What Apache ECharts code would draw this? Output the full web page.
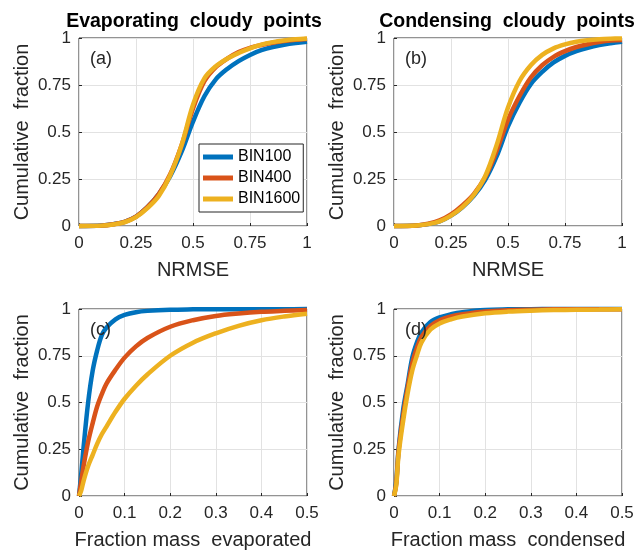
<!DOCTYPE html>
<html>
<head>
<meta charset="utf-8">
<script src="https://cdn.jsdelivr.net/npm/echarts@6/dist/echarts.min.js"></script>
<style>
  html, body { margin: 0; padding: 0; background: #fff; }
  #chart { width: 637px; height: 552px; }
</style>
</head>
<body>
<div id="chart"></div>
<script>
// series names
let names = ['BIN100', 'BIN400', 'BIN1600'];
let colors = ['#0072BD', '#D95319', '#EDB120'];

// NRMSE grid, panels (a) and (b)
let xNrmse = [0, 0.1, 0.15, 0.2, 0.25, 0.3, 0.35, 0.4, 0.45, 0.5, 0.55, 0.6, 0.65, 0.7, 0.75, 0.8, 0.85, 0.9, 0.95, 1];

// (a) evaporating, NRMSE
let evapBlue   = [0, 0.003, 0.01, 0.022, 0.05, 0.1, 0.17, 0.265, 0.395, 0.555, 0.69, 0.78, 0.835, 0.877, 0.91, 0.935, 0.952, 0.964, 0.973, 0.98];
let evapRed    = [0, 0.002, 0.009, 0.022, 0.05, 0.1, 0.17, 0.275, 0.43, 0.625, 0.77, 0.845, 0.89, 0.925, 0.948, 0.963, 0.975, 0.984, 0.99, 0.995];
let evapYellow = [0, 0.002, 0.008, 0.02, 0.047, 0.095, 0.16, 0.27, 0.43, 0.645, 0.785, 0.85, 0.89, 0.92, 0.945, 0.965, 0.978, 0.987, 0.993, 0.997];

// (b) condensing, NRMSE
let condBlue   = [0, 0.003, 0.01, 0.025, 0.055, 0.1, 0.16, 0.245, 0.37, 0.53, 0.655, 0.755, 0.82, 0.87, 0.905, 0.93, 0.948, 0.962, 0.972, 0.98];
let condRed    = [0, 0.003, 0.012, 0.03, 0.062, 0.11, 0.17, 0.26, 0.4, 0.565, 0.69, 0.79, 0.855, 0.9, 0.93, 0.952, 0.967, 0.978, 0.986, 0.99];
let condYellow = [0, 0.003, 0.01, 0.025, 0.055, 0.1, 0.165, 0.265, 0.43, 0.63, 0.77, 0.855, 0.91, 0.945, 0.966, 0.98, 0.988, 0.993, 0.996, 0.998];

// fraction mass grid, panels (c) and (d)
let xMass = [0, 0.005, 0.01, 0.02, 0.03, 0.04, 0.05, 0.06, 0.08, 0.1, 0.125, 0.15, 0.2, 0.25, 0.3, 0.35, 0.4, 0.45, 0.5];

// (c) fraction mass evaporated
let massEvapBlue   = [0, 0.12, 0.26, 0.5, 0.67, 0.78, 0.86, 0.9, 0.945, 0.968, 0.983, 0.99, 0.996, 0.998, 0.999, 0.999, 0.999, 0.999, 1];
let massEvapRed    = [0, 0.08, 0.16, 0.29, 0.39, 0.48, 0.545, 0.6, 0.675, 0.74, 0.8, 0.845, 0.905, 0.94, 0.963, 0.976, 0.985, 0.99, 0.995];
let massEvapYellow = [0, 0.03, 0.08, 0.16, 0.22, 0.28, 0.33, 0.37, 0.45, 0.52, 0.59, 0.65, 0.75, 0.82, 0.87, 0.91, 0.94, 0.96, 0.975];

// (d) fraction mass condensed
let massCondBlue   = [0, 0.08, 0.25, 0.46, 0.6, 0.74, 0.82, 0.875, 0.93, 0.955, 0.972, 0.983, 0.995, 0.998, 0.999, 1, 1, 1, 1];
let massCondRed    = [0, 0.07, 0.24, 0.43, 0.58, 0.71, 0.79, 0.85, 0.91, 0.94, 0.96, 0.972, 0.987, 0.993, 0.996, 0.998, 0.999, 0.999, 0.999];
let massCondYellow = [0, 0.06, 0.22, 0.4, 0.55, 0.67, 0.75, 0.82, 0.89, 0.923, 0.945, 0.96, 0.977, 0.986, 0.991, 0.994, 0.996, 0.997, 0.998];

// tick values
let ticksNrmse = [0, 0.25, 0.5, 0.75, 1];
let ticksMass = [0, 0.1, 0.2, 0.3, 0.4, 0.5];
let ticksFrac = [0, 0.25, 0.5, 0.75, 1];

let panels = [
    { x: xNrmse, ys: [evapBlue, evapRed, evapYellow], ticks: ticksNrmse, xname: 'NRMSE', tag: '(a)' },
    { x: xNrmse, ys: [condBlue, condRed, condYellow], ticks: ticksNrmse, xname: 'NRMSE', tag: '(b)' },
    { x: xMass, ys: [massEvapBlue, massEvapRed, massEvapYellow], ticks: ticksMass, xname: 'Fraction mass  evaporated', tag: '(c)' },
    { x: xMass, ys: [massCondBlue, massCondRed, massCondYellow], ticks: ticksMass, xname: 'Fraction mass  condensed', tag: '(d)' },
];

// plot boxes
let boxes = [
    { left: 79, top: 38, width: 228, height: 188 },
    { left: 394, top: 38, width: 228, height: 188 },
    { left: 79, top: 309, width: 228, height: 187 },
    { left: 394, top: 309, width: 228, height: 187 },
];

let txt = '#262626';
let fontFam = 'Liberation Sans, Arial, sans-serif';

let myChart = echarts.init(document.getElementById('chart'), null, { renderer: 'canvas' });

let grid = [], xAxis = [], yAxis = [], series = [], graphic = [];

panels.map(function (p, i) {
    let b = boxes[i];
    grid.push({
        left: b.left, top: b.top, width: b.width, height: b.height,
        show: true, borderColor: txt, borderWidth: 1, backgroundColor: '#fff'
    });
    xAxis.push({
        gridIndex: i,
        type: 'value',
        min: p.ticks[0],
        max: p.ticks[p.ticks.length - 1],
        interval: p.ticks[1] - p.ticks[0],
        name: p.xname,
        nameLocation: 'middle',
        nameGap: 34,
        nameTextStyle: { fontSize: 20, color: txt, fontFamily: fontFam },
        axisLine: { show: false },
        axisTick: { show: true, inside: true, length: 3, lineStyle: { color: txt } },
        axisLabel: { fontSize: 17, color: txt, margin: 9, fontFamily: fontFam },
        splitLine: { show: true, lineStyle: { color: '#e2e2e2', width: 1 } },
    });
    yAxis.push({
        gridIndex: i,
        type: 'value',
        min: ticksFrac[0],
        max: ticksFrac[ticksFrac.length - 1],
        interval: ticksFrac[1] - ticksFrac[0],
        name: 'Cumulative  fraction',
        nameLocation: 'middle',
        nameGap: 47,
        nameTextStyle: { fontSize: 20, color: txt, fontFamily: fontFam },
        axisLine: { show: false },
        axisTick: { show: true, inside: true, length: 3, lineStyle: { color: txt } },
        axisLabel: { fontSize: 17, color: txt, margin: 8, fontFamily: fontFam },
        splitLine: { show: true, lineStyle: { color: '#e2e2e2', width: 1 } },
    });
    p.ys.map(function (ys, k) {
        series.push({
            name: names[k],
            type: 'line',
            xAxisIndex: i,
            yAxisIndex: i,
            data: p.x.map(function (xv, j) { return [xv, ys[j]]; }),
            showSymbol: false,
            smooth: 0.35,
            lineStyle: { color: colors[k], width: 4.5 },
            itemStyle: { color: colors[k] },
            clip: false,
        });
    });
    // panel tag (a) (b) ...
    graphic.push({
        type: 'text',
        left: b.left + 11,
        top: b.top + 12,
        style: { text: p.tag, fontSize: 18, fill: txt, fontFamily: fontFam },
        z: 100
    });
});

// column titles
graphic.push({
    type: 'text', x: 194, y: 22,
    style: { text: 'Evaporating  cloudy  points', fontSize: 19.5, fontWeight: 'bold', fill: '#000', textAlign: 'center', textVerticalAlign: 'middle', fontFamily: fontFam }
});
graphic.push({
    type: 'text', x: 507, y: 22,
    style: { text: 'Condensing  cloudy  points', fontSize: 19.5, fontWeight: 'bold', fill: '#000', textAlign: 'center', textVerticalAlign: 'middle', fontFamily: fontFam }
});

myChart.setOption({
    animation: false,
    backgroundColor: '#fff',
    legend: {
        data: names,
        orient: 'vertical',
        left: 199,
        top: 144,
        icon: 'rect',
        itemWidth: 30,
        itemHeight: 5,
        itemGap: 5,
        padding: [5, 3, 5, 4],
        backgroundColor: '#fff',
        borderColor: txt,
        borderWidth: 1,
        borderRadius: 0,
        textStyle: { fontSize: 16, color: '#000', fontFamily: fontFam, lineHeight: 16 },
        z: 50
    },
    grid: grid,
    xAxis: xAxis,
    yAxis: yAxis,
    series: series,
    graphic: graphic,
});
</script>
</body>
</html>
